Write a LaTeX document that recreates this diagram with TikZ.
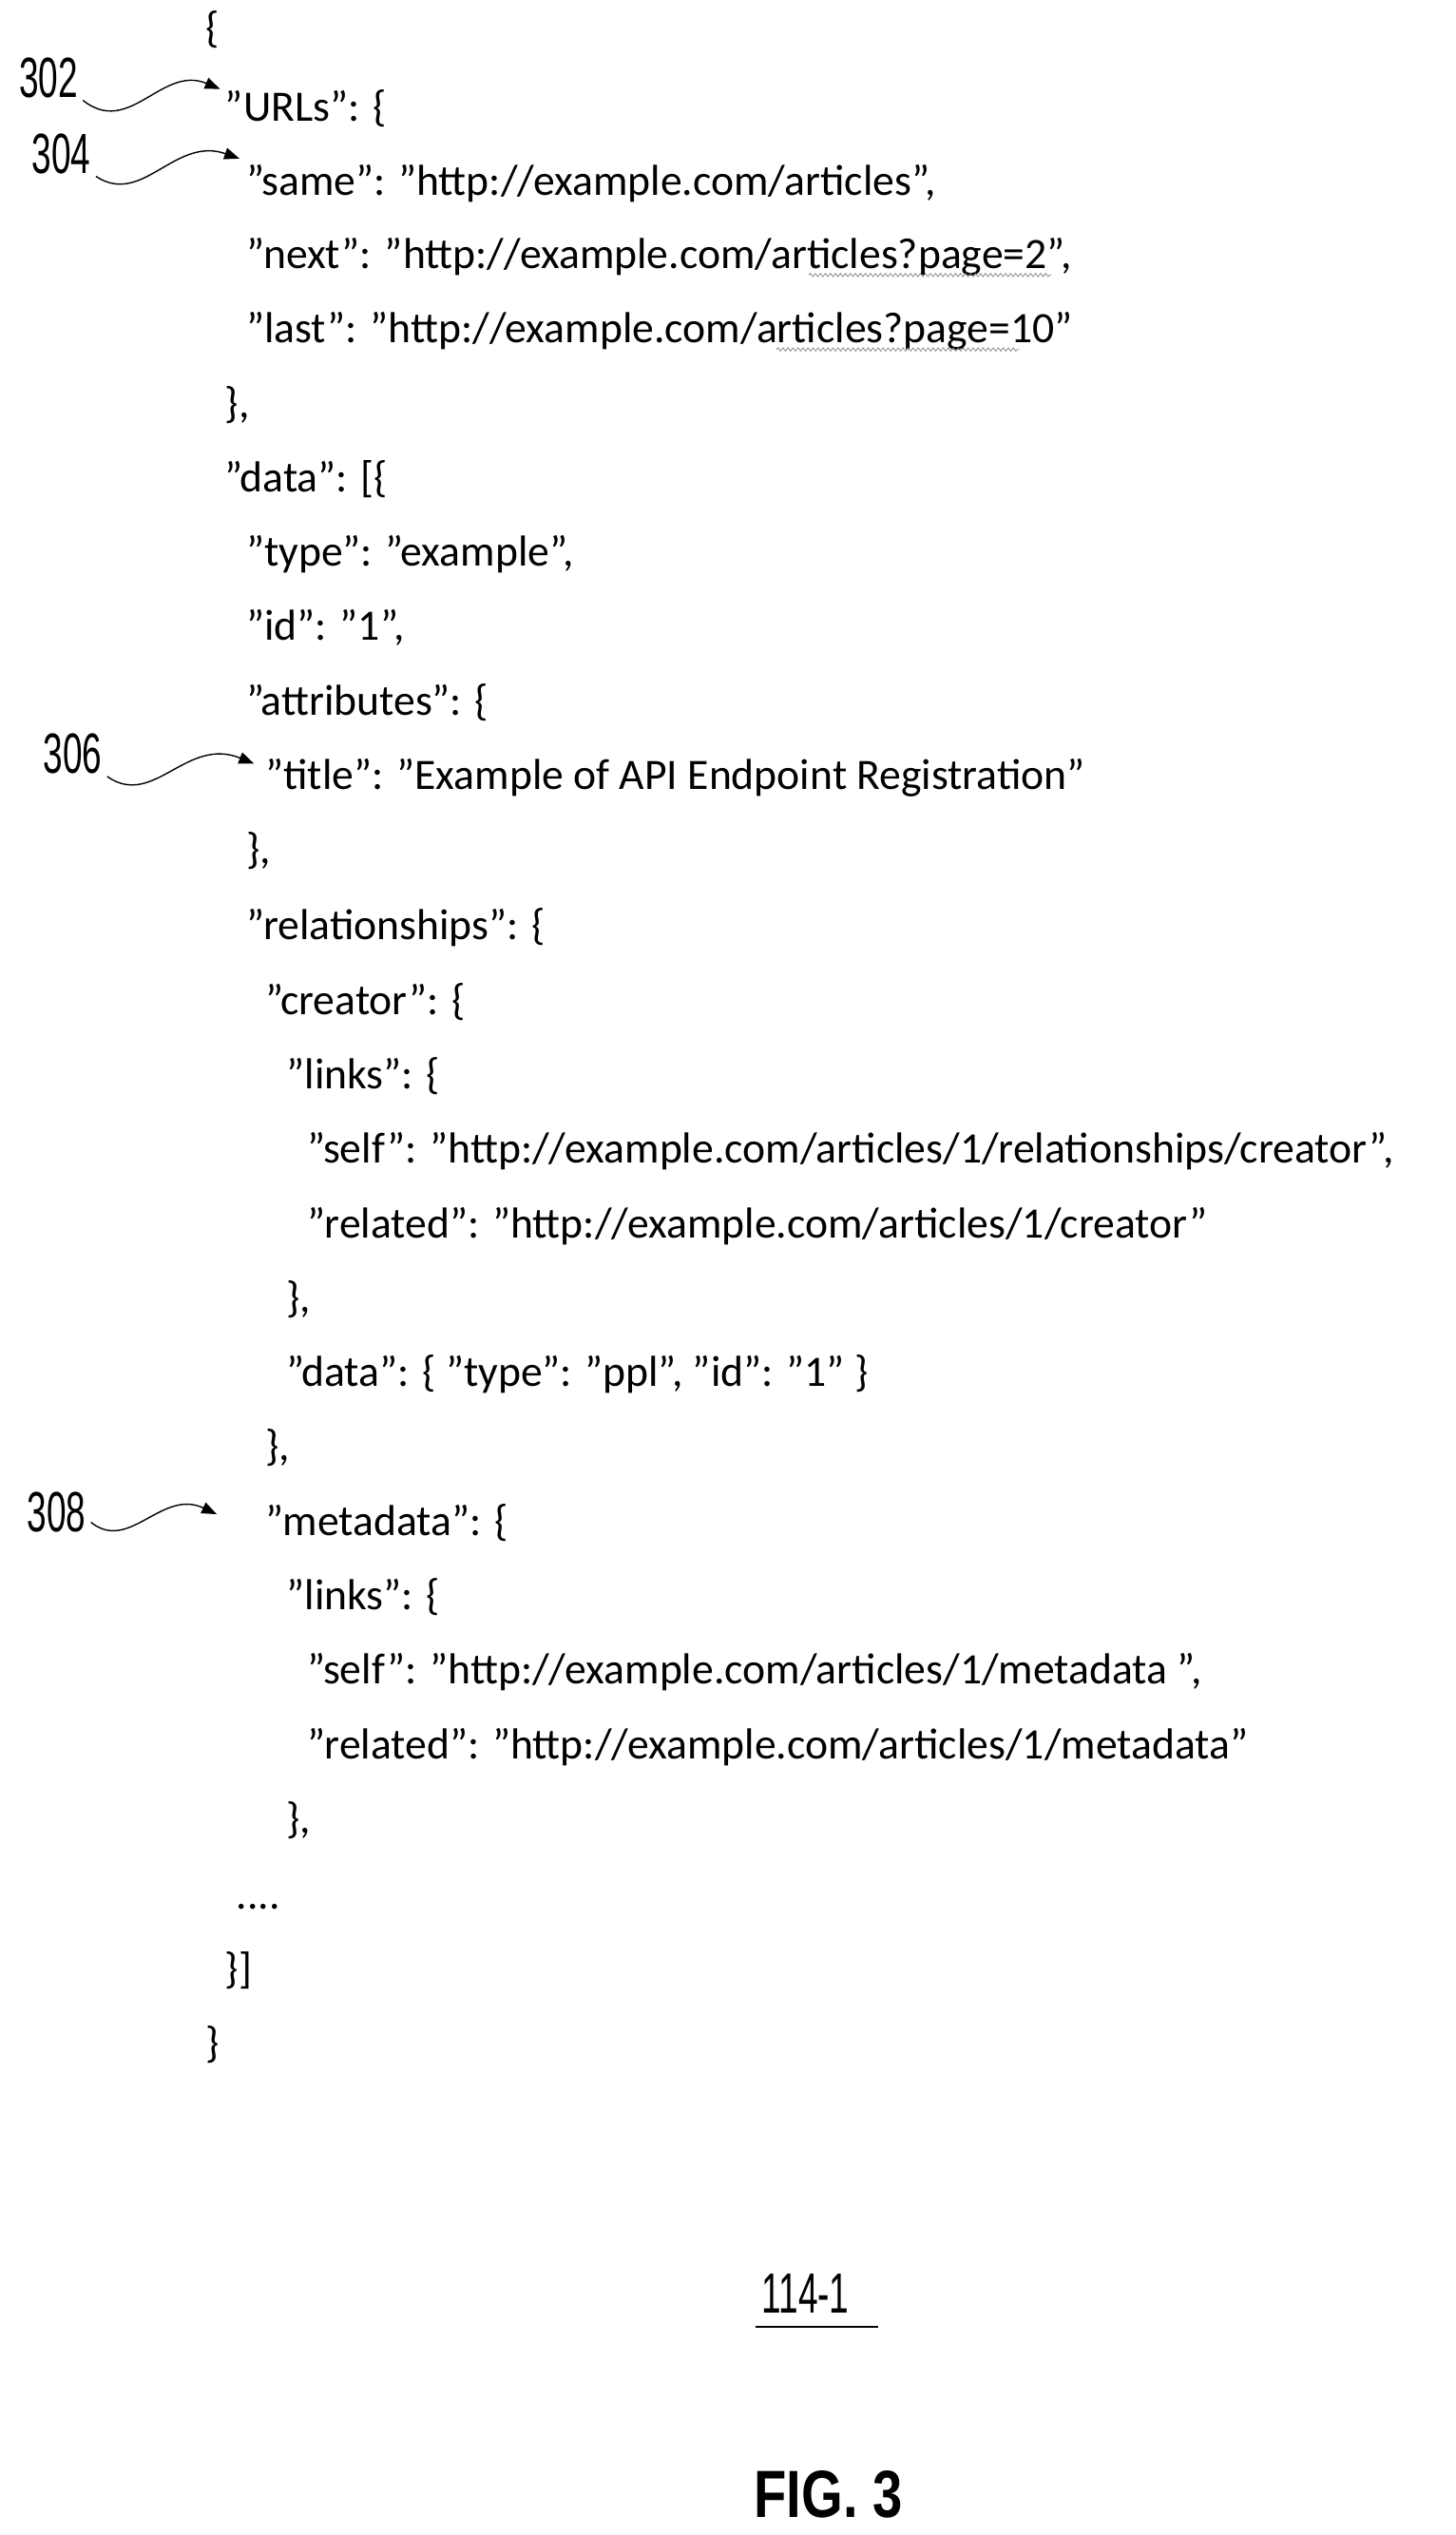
\documentclass[tikz,border=0pt]{standalone}
\usepackage{fontspec}
\setmainfont{Carlito}
\setsansfont{Liberation Sans}
\usetikzlibrary{decorations.pathmorphing,arrows.meta}
\tikzset{
  codeline/.style={anchor=base west, inner sep=0pt, font=\fontsize{26}{30}\selectfont},
  refnum/.style={inner sep=0pt, font=\sffamily\fontsize{34}{40}\selectfont, xscale=0.62, transform shape},
  leader/.style={-{Triangle[length=9pt,width=7pt]}, line width=0.8pt},
  squiggle/.style={gray, line width=0.4pt, decorate, decoration={snake, amplitude=1pt, segment length=3pt}}
}
\begin{document}
\begin{tikzpicture}[x=0.034066cm, y=-0.034066cm]
    \useasboundingbox (0,0) rectangle (900,1567);

    \node[codeline] (L1) at (127,26) {\{};
    \node[codeline] (L2) at (139,75) {"URLs": \{};
    \node[codeline] (L3) at (152,121) {"same": "http://example.com/articles",};
    \node[codeline] (L4) at (152,166) {"next": "http://example.com/articles?page=2",};
    \node[codeline] (L5) at (152,212) {"last": "http://example.com/articles?page=10"};
    \node[codeline] (L6) at (139,258) {\},};
    \node[codeline] (L7) at (139,304) {"data": [\{};
    \node[codeline] (L8) at (152,350) {"type": "example",};
    \node[codeline] (L9) at (152,396) {"id": "1",};
    \node[codeline] (L10) at (152,442) {"attributes": \{};
    \node[codeline] (L11) at (164,488) {"title": "Example of API Endpoint Registration"};
    \node[codeline] (L12) at (152,534) {\},};
    \node[codeline] (L13) at (152,581) {"relationships": \{};
    \node[codeline] (L14) at (164,627) {"creator": \{};
    \node[codeline] (L15) at (177,673) {"links": \{};
    \node[codeline] (L16) at (190,719) {"self": "http://example.com/articles/1/relationships/creator",};
    \node[codeline] (L17) at (190,765) {"related": "http://example.com/articles/1/creator"};
    \node[codeline] (L18) at (177,811) {\},};
    \node[codeline] (L19) at (177,857) {"data": \{ "type": "ppl", "id": "1" \}};
    \node[codeline] (L20) at (164,903) {\},};
    \node[codeline] (L21) at (164,949) {"metadata": \{};
    \node[codeline] (L22) at (177,995) {"links": \{};
    \node[codeline] (L23) at (190,1041) {"self": "http://example.com/articles/1/metadata ",};
    \node[codeline] (L24) at (190,1087) {"related": "http://example.com/articles/1/metadata"};
    \node[codeline] (L25) at (177,1133) {\},};
    \node[codeline] (L26) at (146,1180) {....};
    \node[codeline] (L27) at (139,1226) {\}]};
    \node[codeline] (L28) at (127,1272) {\}};

    % spell-check squiggles
    \coordinate (q1a) at (500,170); \coordinate (q1b) at (650,170);
    \coordinate (q2a) at (480,216); \coordinate (q2b) at (630,216);
    \draw[squiggle] (q1a) -- (q1b);
    \draw[squiggle] (q2a) -- (q2b);

    % reference numerals
    \node[refnum] (n302) at (30,48) {302};
    \node[refnum] (n304) at (38,95) {304};
    \node[refnum] (n306) at (45,466) {306};
    \node[refnum] (n308) at (35,935) {308};

    \coordinate (t302) at (136,55);
    \coordinate (t304) at (148,98);
    \coordinate (t306) at (157,472);
    \coordinate (t308) at (134,936);
    \draw[leader] (n302.east) ++(3,14) .. controls (80,85) and (100,40) .. (t302);
    \draw[leader] (n304.east) ++(3,14) .. controls (88,128) and (108,84) .. (t304);
    \draw[leader] (n306.east) ++(3,14) .. controls (95,500) and (115,455) .. (t306);
    \draw[leader] (n308.east) ++(3,6) .. controls (80,960) and (100,920) .. (t308);

    \node[refnum] (n114) at (498,1418) {114-1};
    \draw[line width=0.8pt] (n114.south west) ++(-4,8) -- ++(76,0);

    \node[inner sep=0pt, font=\sffamily\bfseries\fontsize{40}{46}\selectfont, xscale=0.8, transform shape] (fig) at (512,1542) {FIG. 3};
\end{tikzpicture}
\end{document}
